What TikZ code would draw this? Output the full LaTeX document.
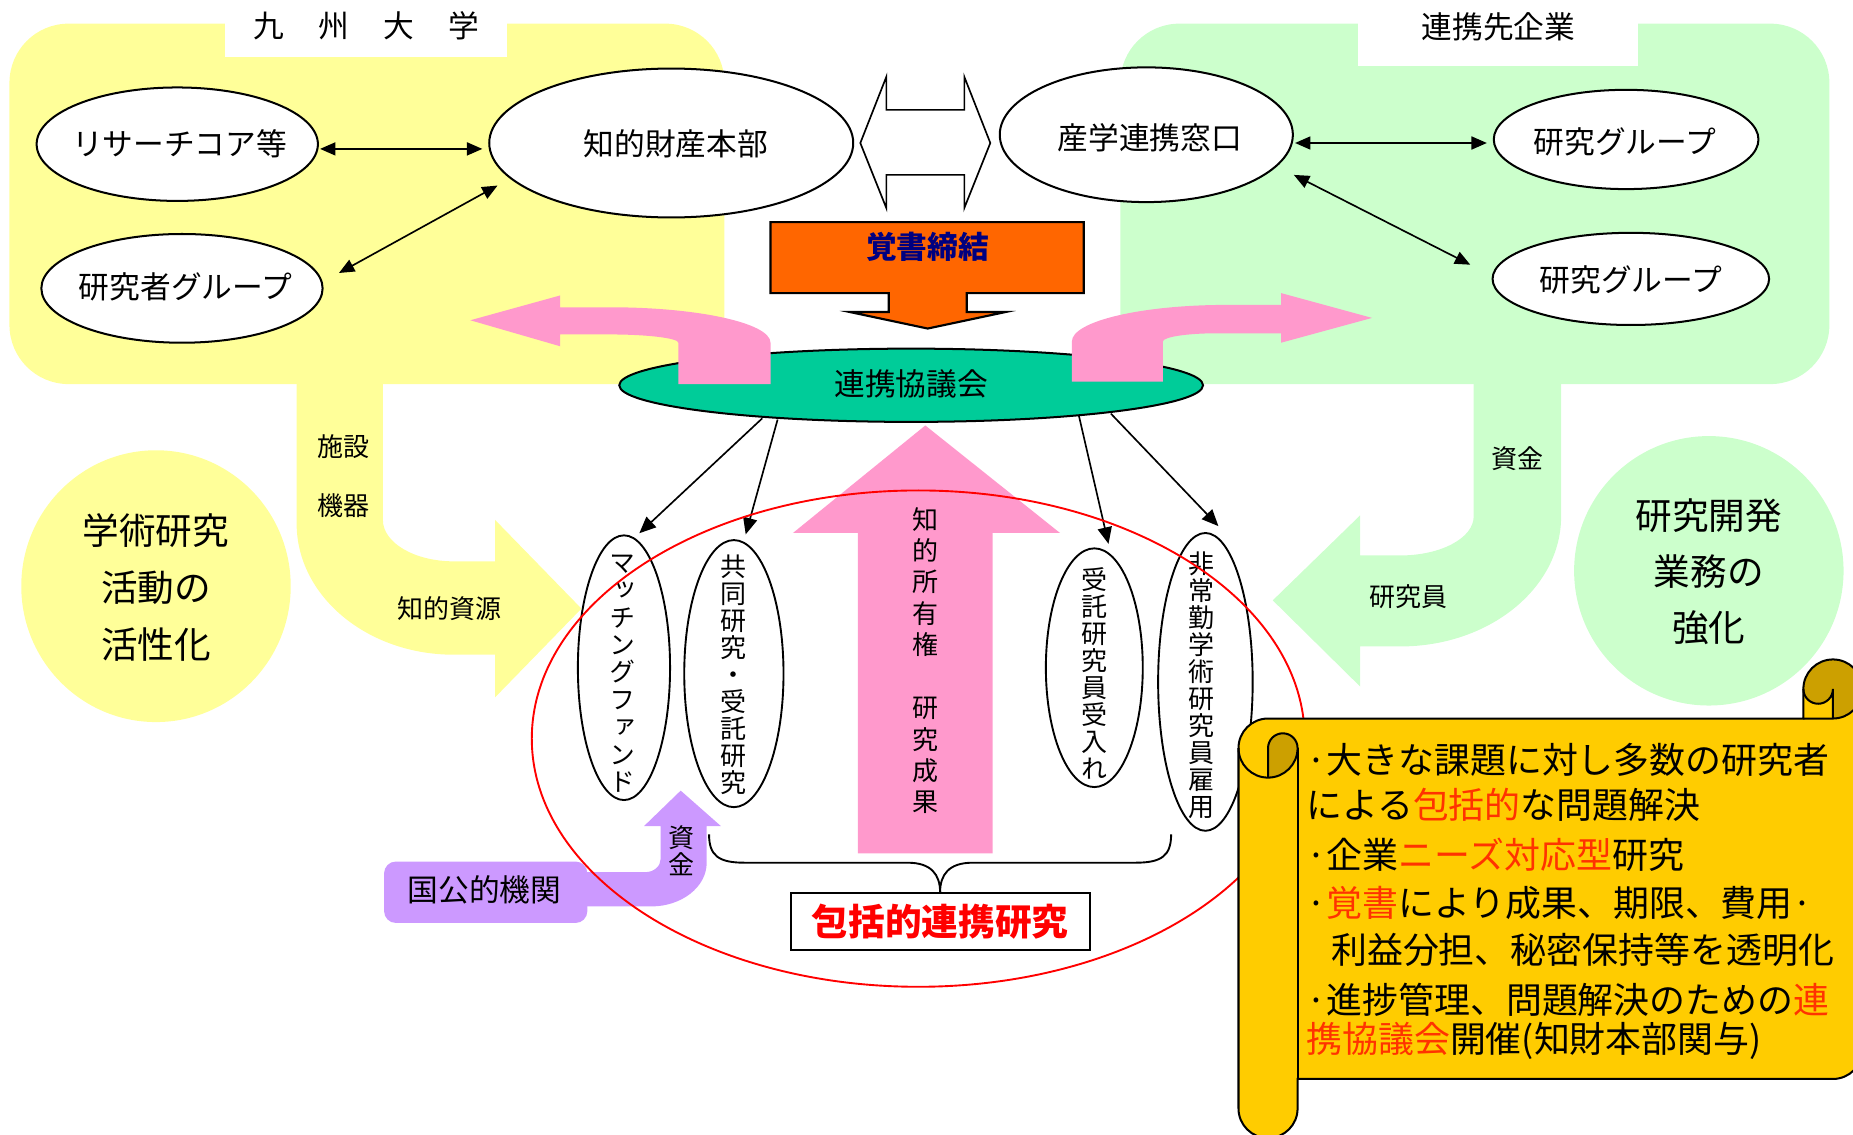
\documentclass[tikz,border=0pt]{standalone}
\usepackage{fontspec}
\setmainfont{Noto Sans CJK JP}
\newfontfamily\vjp[RawFeature=+vert]{Noto Sans CJK JP}
\usetikzlibrary{shapes.geometric,arrows.meta,calc}
\definecolor{yel}{HTML}{FFFF99}
\definecolor{grn}{HTML}{CCFFCC}
\definecolor{pnk}{HTML}{FF99CC}
\definecolor{org}{HTML}{FF6600}
\definecolor{navyb}{HTML}{000080}
\definecolor{teal2}{HTML}{00CC99}
\definecolor{purp}{HTML}{CC99FF}
\definecolor{scr}{HTML}{FFCC00}
\definecolor{scrd}{HTML}{CCA000}
\definecolor{red2}{HTML}{FF3300}
\tikzset{
  ell/.style={ellipse, draw=black, line width=0.85pt, fill=white, inner sep=0pt},
  vell/.style={ellipse, draw=black, line width=0.8pt, fill=white, inner sep=0pt},
  lab/.style={font=\fontsize{13}{15}\selectfont, inner sep=0pt},
  smalllab/.style={font=\fontsize{11}{13}\selectfont, inner sep=0pt},
  biglab/.style={font=\fontsize{15.5}{24}\selectfont, inner sep=0pt, align=center},
  vtxt/.style={font=\vjp\fontsize{11}{11.4}\selectfont, align=center, inner sep=0pt},
  scrtxt/.style={font=\fontsize{15.2}{18}\selectfont, inner sep=0pt, anchor=west},
  conn/.style={line width=0.7pt, {Triangle[length=6.5pt,width=5.5pt]}-{Triangle[length=6.5pt,width=5.5pt]}},
  arr/.style={line width=0.7pt, -{Triangle[length=7pt,width=6pt]}},
}
\begin{document}
\begin{tikzpicture}[x=0.5pt,y=-0.5pt]
\useasboundingbox (0,0) rectangle (1568,960);
% ---------- regions ----------
\fill[yel, rounded corners=25pt] (8,20) rectangle (613,325);
\fill[yel] (251,300) -- (251,443) arc[start angle=180,end angle=90,x radius=133,y radius=111]
  -- (419,554) -- (419,590) -- (492,515) -- (419,440) -- (419,475) -- (384,475)
  arc[start angle=90,end angle=180,x radius=60,y radius=35] -- (324,300) -- cycle;
\fill[grn, rounded corners=25pt] (948,20) rectangle (1548,325);
\fill[grn] (1321,300) -- (1321,437) arc[start angle=0,end angle=90,x radius=136,y radius=110]
  -- (1151,547) -- (1151,581) -- (1077,508) -- (1151,436) -- (1151,470) -- (1185,470)
  arc[start angle=90,end angle=0,x radius=62,y radius=33] -- (1247,300) -- cycle;
\fill[white] (190,0) rectangle (429,48);
\node[lab] (tku) at (310,22) {九\hspace{14.5pt}州\hspace{14.5pt}大\hspace{14.5pt}学};
\fill[white] (1149,0) rectangle (1386,56);
\node[lab] (tcp) at (1268,23) {連携先企業};
% ---------- circles ----------
\node[ellipse, fill=yel, minimum width=114pt, minimum height=115pt, inner sep=0pt] (cy) at (132,496) {};
\node[biglab] (cyt) at (132,497) {学術研究\\活動の\\活性化};
\node[ellipse, fill=grn, minimum width=114pt, minimum height=114pt, inner sep=0pt] (cg) at (1446,483) {};
\node[biglab, font=\fontsize{15.5}{23.7}\selectfont] (cgt) at (1446,484) {研究開発\\業務の\\強化};
% ---------- flow labels ----------
\node[smalllab] (l1) at (291,378) {施設};
\node[smalllab] (l2) at (291,428) {機器};
\node[smalllab] (l3) at (380,515) {知的資源};
\node[smalllab] (l4) at (1284,388) {資金};
\node[smalllab] (l5) at (1192,505) {研究員};
% ---------- top ellipses ----------
\node[ell, minimum width=119pt, minimum height=48pt] (rc) at (150,122) {};
\node[lab] (rct) at (152,122) {リサーチコア等};
\node[ell, minimum width=119pt, minimum height=46pt] (rg) at (154,244) {};
\node[lab] (rgt) at (157,243) {研究者グループ};
\node[ell, minimum width=154pt, minimum height=63pt] (ip) at (568,121) {};
\node[lab] (ipt) at (572,122) {知的財産本部};
\node[ell, minimum width=124pt, minimum height=57pt] (sg) at (970,114) {};
\node[lab] (sgt) at (973,117) {産学連携窓口};
\node[ell, minimum width=112pt, minimum height=42pt] (rg1) at (1376,118) {};
\node[lab] (rg1t) at (1375,120) {研究グループ};
\node[ell, minimum width=117pt, minimum height=39pt] (rg2) at (1380,236) {};
\node[lab] (rg2t) at (1380,237) {研究グループ};
\draw[conn] ($(rc.east)+(1,4)$) -- ($(ip.west)+(-5,5)$);
\draw[conn] ($(rg.east)+(13,-13)$) -- ($(ip.center)+(-147,36)$);
\draw[conn] ($(sg.east)+(1,7)$) -- ($(rg1.west)+(-5,3)$);
\draw[conn] ($(sg.east)+(0,34)$) -- ($(rg2.west)+(-18,-12)$);
% ---------- double arrow ----------
\draw[fill=white, line width=0.7pt] (728,121) -- (750,65) -- (750,93) -- (816,93) -- (816,65) -- (838,121)
  -- (816,176) -- (816,148) -- (750,148) -- (750,176) -- cycle;
% ---------- orange block arrow ----------
\draw[fill=org, line width=0.9pt] (652,188) -- (917,188) -- (917,248) -- (818,248) -- (818,264) -- (851,264)
  -- (785,278) -- (719,264) -- (752,264) -- (752,248) -- (652,248) -- cycle;
\node[lab, font=\fontsize{13}{15}\selectfont\bfseries, text=navyb] (obt) at (785,209) {覚書締結};
% ---------- council ----------
\node[ell, fill=teal2, minimum width=247pt, minimum height=31pt] (c) at (771,326) {};
\node[lab] (ct) at (771,325) {連携協議会};
% pink U arrows
\fill[pnk] (398,271) -- (474,250) -- (474,260) -- (516,260) arc[start angle=270,end angle=360,x radius=136,y radius=30]
  -- (652,325) -- (574,325) -- (574,290) arc[start angle=0,end angle=-90,x radius=58,y radius=7]
  -- (474,283) -- (474,293) -- cycle;
\fill[pnk] (1161,269) -- (1084,248) -- (1084,258) -- (1038,258) arc[start angle=270,end angle=180,x radius=131,y radius=31]
  -- (907,323) -- (984,323) -- (984,289) arc[start angle=180,end angle=270,x radius=46,y radius=7]
  -- (1084,282) -- (1084,290) -- cycle;
% big pink up arrow
\fill[pnk] (726,722) -- (726,451) -- (671,451) -- (783,360) -- (897,451) -- (840,451) -- (840,722) -- cycle;
\node[vtxt, font=\vjp\fontsize{11}{13.3}\selectfont] (pat) at (783,559) {知\\的\\所\\有\\権\\[13.3pt]研\\究\\成\\果};
% ---------- vertical ellipses ----------
\node[vell, minimum width=39pt, minimum height=112pt] (mf) at (528,565) {};
\node[vtxt, font=\vjp\fontsize{11}{11.6}\selectfont] (mft) at (527,570) {マ\\ッ\\チ\\ン\\グ\\フ\\ァ\\ン\\ド};
\node[vell, minimum width=42pt, minimum height=113pt] (jr) at (621,570) {};
\node[vtxt] (jrt) at (621,571) {共\\同\\研\\究\\・\\受\\託\\研\\究};
\node[vell, minimum width=41pt, minimum height=101pt] (ur) at (926,565) {};
\node[vtxt] (urt) at (926,570) {受\\託\\研\\究\\員\\受\\入\\れ};
\node[vell, minimum width=40pt, minimum height=126pt] (hj) at (1020,577) {};
\node[vtxt] (hjt) at (1017,580) {非\\常\\勤\\学\\術\\研\\究\\員\\雇\\用};
\draw[arr] ($(c.center)+(-126,28)$) -- ($(mf.north)+(13,-1)$);
\draw[arr] ($(c.center)+(-113,29)$) -- ($(jr.north)+(10,-4)$);
\draw[arr] ($(c.center)+(142,26)$) -- ($(ur.north)+(12,-3)$);
\draw[arr] ($(c.center)+(169,24)$) -- ($(hj.north)+(11,-5)$);
% ---------- purple arrow ----------
\fill[purp, rounded corners=5pt] (325,729) rectangle (497,781);
\fill[purp] (490,738) -- (546,738) arc[start angle=90,end angle=0,x radius=13,y radius=11] -- (559,699) -- (545,699)
  -- (576,669) -- (610,699) -- (598,699) -- (598,730) arc[start angle=0,end angle=90,x radius=47,y radius=37]
  -- (490,767) -- cycle;
\node[lab] (pkt) at (410,753) {国公的機関};
\node[vtxt, font=\fontsize{11}{11.5}\selectfont] (pkf) at (577,720) {資\\金};
% ---------- brace and box ----------
\node[draw, fill=white, line width=0.9pt, minimum width=126.5pt, minimum height=24pt, inner sep=0pt,
  font=\fontsize{15.5}{18}\selectfont\bfseries, text=red] (bx) at (795.5,780) {包括的連携研究};
\draw[line width=0.8pt] (600,706) .. controls (600,724) and (608,730) .. (630,730) -- (768,730)
  .. controls (788,730) and (795.5,740) .. (bx.north);
\draw[line width=0.8pt] (991,706) .. controls (991,724) and (983,730) .. (961,730) -- (823,730)
  .. controls (803,730) and (795.5,740) .. (bx.north);
% ---------- red ellipse ----------
\node[ellipse, draw=red, line width=0.8pt, minimum width=327pt, minimum height=210pt, inner sep=0pt] (re) at (777,625) {};
% ---------- scroll ----------
\begin{scope}[shift={(1048,558)}]
\fill[scr] (528,25) arc[start angle=0,delta angle=90,radius=25] -- (503,25) arc[start angle=0,delta angle=180,radius=12.5]
  -- (478,50) -- (25,50) arc[start angle=270,delta angle=-90,radius=25] -- (0,380)
  arc[start angle=180,delta angle=-180,radius=25] -- (50,355) -- (503,355)
  arc[start angle=90,delta angle=-90,radius=25] -- cycle;
\fill[scrd] (25,100) arc[start angle=90,delta angle=-90,radius=25] arc[start angle=0,delta angle=-180,radius=12.5] -- cycle;
\fill[scrd] (503,50) arc[start angle=90,delta angle=-270,radius=25] arc[start angle=180,delta angle=-180,radius=12.5] -- cycle;
\draw[line width=0.85pt] (0,75) arc[start angle=180,delta angle=90,radius=25] -- (478,50) -- (478,25)
  arc[start angle=180,delta angle=180,radius=25] -- (528,330) arc[start angle=0,delta angle=90,radius=25]
  -- (50,355) -- (50,380) arc[start angle=0,delta angle=180,radius=25] -- cycle;
\draw[line width=0.85pt] (478,50) -- (503,50) arc[start angle=90,delta angle=-90,radius=25];
\draw[line width=0.85pt] (503,50) -- (503,25) arc[start angle=0,delta angle=180,radius=12.5];
\draw[line width=0.85pt] (25,100) -- (25,75) arc[start angle=180,delta angle=180,radius=12.5] arc[start angle=0,delta angle=180,radius=25];
\draw[line width=0.85pt] (50,75) -- (50,355);
\end{scope}
\node[scrtxt] (s1) at (1105,643) {·大きな課題に対し多数の研究者};
\node[scrtxt] (s2) at (1105,681) {による\textcolor{red2}{包括的}な問題解決};
\node[scrtxt] (s3) at (1105,723) {·企業\textcolor{red2}{ニーズ対応型}研究};
\node[scrtxt] (s4) at (1105,764) {·\textcolor{red2}{覚書}により成果、期限、費用·};
\node[scrtxt] (s5) at (1126,804) {利益分担、秘密保持等を透明化};
\node[scrtxt] (s6) at (1105,846) {·進捗管理、問題解決のための\textcolor{red2}{連}};
\node[scrtxt] (s7) at (1105,881) {\textcolor{red2}{携協議会}開催(知財本部関与)};
\end{tikzpicture}
\end{document}
